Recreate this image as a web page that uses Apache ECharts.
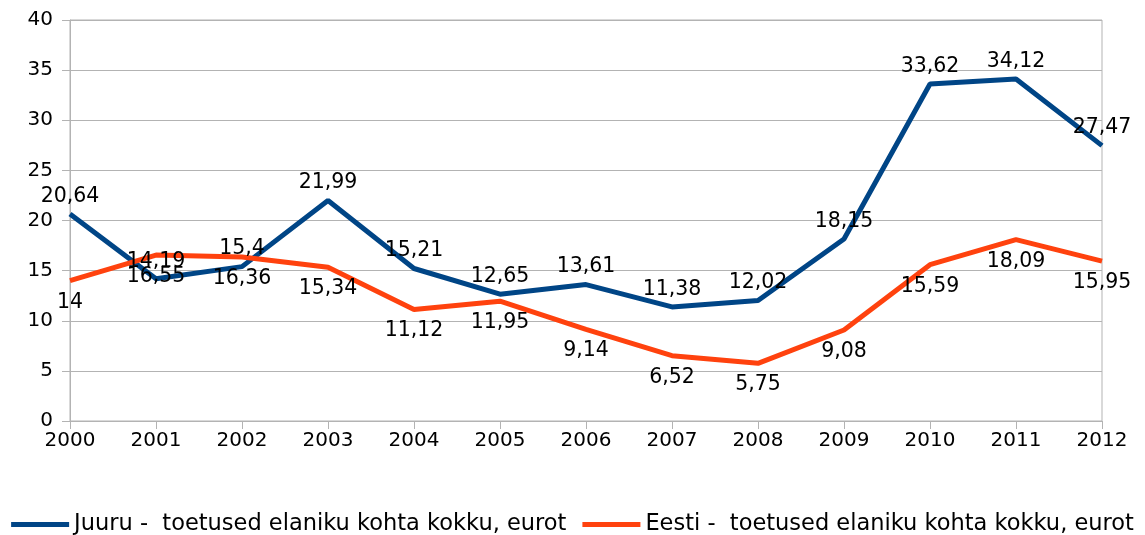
<!DOCTYPE html>
<html>
<head>
<meta charset="utf-8">
<script src="https://cdn.jsdelivr.net/npm/echarts@6/dist/echarts.min.js"></script>
<style>
  html, body { margin: 0; padding: 0; background: #fff; }
  #main { width: 1145px; height: 535px; }
</style>
</head>
<body>
<div id="main"></div>
<script>
const years = ['2000', '2001', '2002', '2003', '2004', '2005', '2006', '2007', '2008', '2009', '2010', '2011', '2012'];
const juuru = [20.64, 14.19, 15.4, 21.99, 15.21, 12.65, 13.61, 11.38, 12.02, 18.15, 33.62, 34.12, 27.47];
const eesti = [14, 16.55, 16.36, 15.34, 11.12, 11.95, 9.14, 6.52, 5.75, 9.08, 15.59, 18.09, 15.95];
const juuruName = 'Juuru -  toetused elaniku kohta kokku, eurot';
const eestiName = 'Eesti -  toetused elaniku kohta kokku, eurot';

const fmt = p => String(p.value).replace('.', ',');
const font = 'DejaVu Sans, Verdana, sans-serif';

const chart = echarts.init(document.getElementById('main'));
chart.setOption({
  animation: false,
  textStyle: { fontFamily: font },
  grid: {
    left: 70, right: 43, top: 20, bottom: 114,
    show: true, borderColor: '#b3b3b3', borderWidth: 1
  },
  legend: {
    top: 508,
    left: 'center',
    itemWidth: 58,
    itemHeight: 5,
    itemGap: 16,
    icon: 'rect',
    textStyle: { fontSize: 22.5, color: '#000', fontFamily: font },
    data: [juuruName, eestiName]
  },
  xAxis: {
    type: 'category',
    data: years,
    boundaryGap: false,
    axisLine: { lineStyle: { color: '#b3b3b3' } },
    axisTick: { show: true, length: 8, lineStyle: { color: '#b3b3b3' } },
    axisLabel: { fontSize: 20, color: '#000', margin: 10 },
    splitLine: { show: false }
  },
  yAxis: {
    type: 'value',
    min: 0, max: 40, interval: 5,
    axisLine: { show: true, lineStyle: { color: '#b3b3b3' } },
    axisTick: { show: true, length: 8, lineStyle: { color: '#b3b3b3' } },
    axisLabel: { fontSize: 20, color: '#000', margin: 17 },
    splitLine: { lineStyle: { color: '#b3b3b3' } }
  },
  series: [
    {
      name: juuruName,
      type: 'line',
      data: juuru,
      symbol: 'circle',
      symbolSize: 0.1,
      color: '#004586',
      lineStyle: { width: 5 },
      label: { show: true, position: 'top', formatter: fmt, fontSize: 20.5, color: '#000', distance: 7 }
    },
    {
      name: eestiName,
      type: 'line',
      data: eesti,
      symbol: 'circle',
      symbolSize: 0.1,
      color: '#ff420e',
      lineStyle: { width: 5 },
      label: { show: true, position: 'bottom', formatter: fmt, fontSize: 20.5, color: '#000', distance: 11 }
    }
  ]
});
</script>
</body>
</html>
